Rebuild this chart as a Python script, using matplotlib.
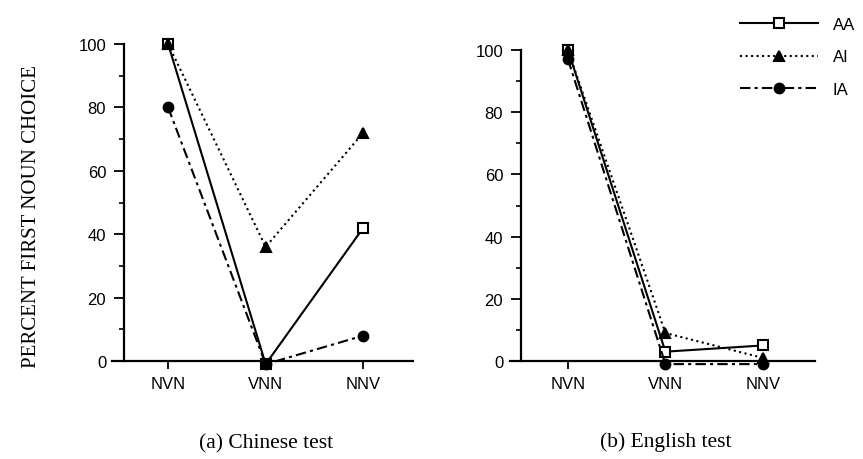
import matplotlib
matplotlib.use('Agg')
import matplotlib.pyplot as plt
from matplotlib.lines import Line2D
from matplotlib.ticker import MultipleLocator
from matplotlib.transforms import blended_transform_factory

# 数据
orders = ['NVN', 'VNN', 'NNV']
groups = ['AA', 'AI', 'IA']

chinese_aa = [100, -1, 42]
chinese_ai = [100, 36, 72]
chinese_ia = [80, -1, 8]

english_aa = [100, 3, 5]
english_ai = [100, 9, 1]
english_ia = [97, -1, -1]

styles = {
    'AA': dict(linestyle='-', marker='s', markerfacecolor='white'),
    'AI': dict(linestyle=':', marker='^', markerfacecolor='black'),
    'IA': dict(linestyle=(0, (5, 2, 1.5, 2)), marker='o', markerfacecolor='black'),
}

plt.rcParams['font.family'] = ['Liberation Sans', 'DejaVu Sans']

W, H = 863, 460
fig = plt.figure(figsize=(W / 100, H / 100), dpi=100)
ax1 = fig.add_axes([112 / W, (H - 362) / H, 301 / W, 317 / H])
ax2 = fig.add_axes([509.5 / W, (H - 362) / H, 305 / W, 311 / H])


def draw_panel(ax, series, caption, xlim, spine_x):
    x = range(len(orders))
    for name, vals in zip(groups, series):
        ax.plot(x, vals, color='black', linewidth=1.5, markersize=7,
                markeredgecolor='black', markeredgewidth=1.5,
                clip_on=False, zorder=3, **styles[name])
    ax.set_xlim(*xlim)
    ax.set_ylim(0, 100)
    ax.spines['top'].set_visible(False)
    ax.spines['right'].set_visible(False)
    ax.spines['left'].set_position(('data', spine_x))
    ax.spines['left'].set_linewidth(1.6)
    ax.spines['bottom'].set_linewidth(1.6)
    ax.set_xticks(list(x))
    ax.set_xticklabels(orders, fontsize=12)
    ax.set_yticks(range(0, 101, 20))
    ax.yaxis.set_minor_locator(MultipleLocator(10))
    ax.tick_params(axis='y', which='major', length=7, width=1.3,
                   labelsize=12, pad=6)
    ax.tick_params(axis='y', which='minor', length=3.5, width=1.2)
    ax.tick_params(axis='x', length=6, width=1.3, pad=5)
    trans = blended_transform_factory(ax.transData, ax.transAxes)
    ax.text(1, -0.258, caption, transform=trans, ha='center',
            va='center', fontsize=15.5, family='Liberation Serif')


draw_panel(ax1, [chinese_aa, chinese_ai, chinese_ia], '(a) Chinese test',
           (-0.575, 2.51), -0.45)
draw_panel(ax2, [english_aa, english_ai, english_ia], '(b) English test',
           (-0.6, 2.53), -0.48)

fig.text(32 / W, 1 - 217 / H, 'PERCENT FIRST NOUN CHOICE', rotation=90,
         ha='center', va='center', fontsize=15, family='Liberation Serif')

handles = [Line2D([], [], color='black', linewidth=1.5, markersize=7,
                  markeredgecolor='black', markeredgewidth=1.5,
                  **styles[name]) for name in groups]
fig.legend(handles, groups, loc='upper left',
           bbox_to_anchor=(740 / W, 1 - 18 / H), frameon=False,
           borderpad=0, borderaxespad=0,
           handlelength=4.7, labelspacing=1.05, handletextpad=0.85,
           fontsize=12)

fig.savefig('out.png', dpi=100)
